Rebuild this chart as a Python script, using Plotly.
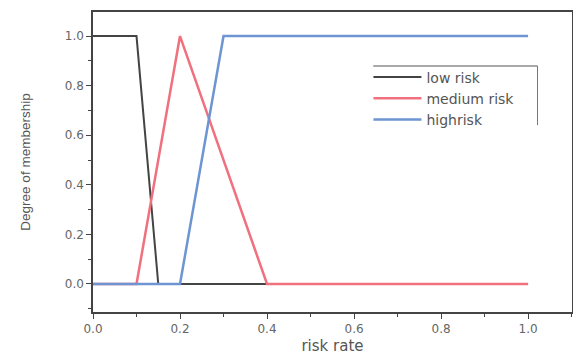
import plotly.graph_objects as go

low_x = [0.0, 0.1, 0.15, 1.0]
low_y = [1.0, 1.0, 0.0, 0.0]
med_x = [0.0, 0.1, 0.2, 0.4, 1.0]
med_y = [0.0, 0.0, 1.0, 0.0, 0.0]
high_x = [0.0, 0.2, 0.3, 1.0]
high_y = [0.0, 0.0, 1.0, 1.0]
names = ["low risk", "medium risk", "highrisk"]
tick_vals = [0.0, 0.2, 0.4, 0.6, 0.8, 1.0]
tick_text = ["0.0", "0.2", "0.4", "0.6", "0.8", "1.0"]

fig = go.Figure()
fig.add_trace(go.Scatter(x=low_x, y=low_y, mode="lines", name=names[0],
                         line=dict(color="#444444", width=2)))
fig.add_trace(go.Scatter(x=med_x, y=med_y, mode="lines", name=names[1],
                         line=dict(color="#f0707e", width=2.5)))
fig.add_trace(go.Scatter(x=high_x, y=high_y, mode="lines", name=names[2],
                         line=dict(color="#6d95d2", width=2.5)))

axis_common = dict(
    showgrid=False, zeroline=False, showline=True, linecolor="#444444", linewidth=1.5,
    mirror=True, ticks="outside", ticklen=5, tickwidth=1.2, tickcolor="#444444",
    tickfont=dict(family="DejaVu Sans", size=12, color="#666666"),
    minor=dict(ticks="outside", ticklen=3, tickcolor="#444444", dtick=0.1),
    tickvals=tick_vals, ticktext=tick_text, automargin=False,
)

fig.update_layout(
    width=573, height=358,
    margin=dict(l=93, r=1, t=12, b=46),
    paper_bgcolor="white", plot_bgcolor="white",
    xaxis=dict(range=[0, 1.101], title=dict(text="risk rate", standoff=5,
               font=dict(family="DejaVu Sans", size=15, color="#555555")),
               **axis_common),
    yaxis=dict(range=[-0.113, 1.097], title=dict(text="Degree of membership", standoff=31,
               font=dict(family="Liberation Sans, Arial", size=13.5, color="#555555")),
               **axis_common),
    legend=dict(x=0.575, y=0.835, xanchor="left", yanchor="top",
                bgcolor="rgba(0,0,0,0)", borderwidth=0,
                font=dict(family="DejaVu Sans", size=14, color="#555555"),
                tracegroupgap=0, itemwidth=48),
    shapes=[
        dict(type="line", xref="paper", yref="paper", x0=0.585, x1=0.928, y0=0.82, y1=0.82,
             line=dict(color="#555555", width=1.2)),
        dict(type="line", xref="paper", yref="paper", x0=0.928, x1=0.928, y0=0.82, y1=0.623,
             line=dict(color="#777777", width=1)),
    ],
    showlegend=True,
)

fig.write_html("out.html", config={"displayModeBar": False},
               post_script="document.body.style.margin='0';document.body.style.overflow='hidden';")
